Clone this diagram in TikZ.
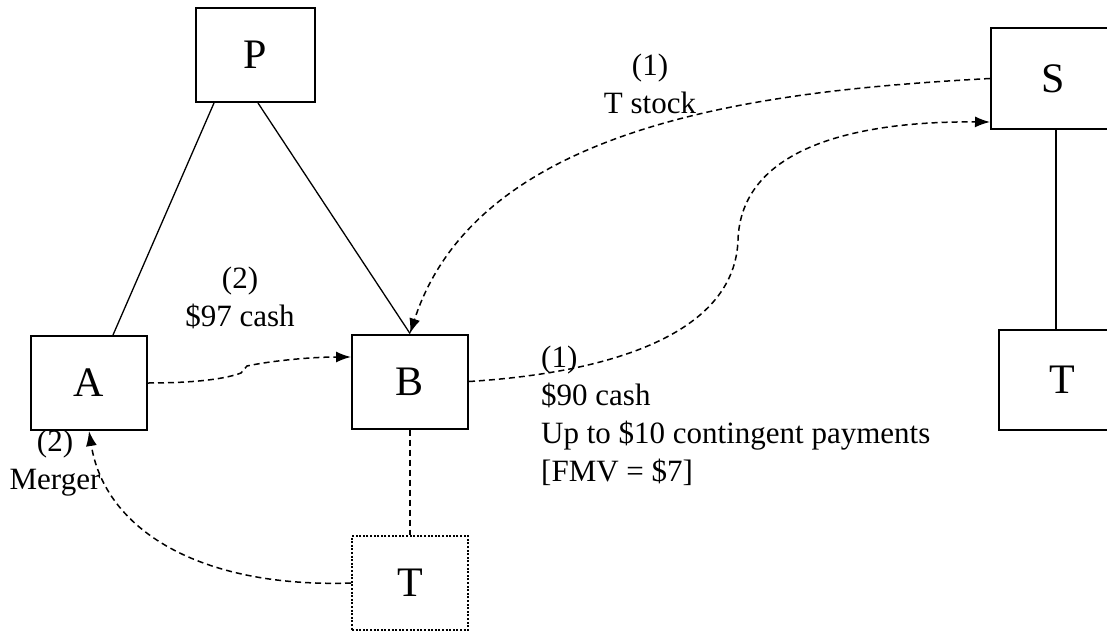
\documentclass[tikz,border=0pt]{standalone}
\usepackage{fontspec}
\setmainfont{Liberation Serif}
\usetikzlibrary{arrows.meta}

\begin{document}
\begin{tikzpicture}[
        x=1pt, y=-1pt,
        boite/.style = {draw, line width=2pt, minimum width=116pt, minimum height=94pt, inner sep=0pt, font=\fontsize{42}{50}\selectfont},
        pointille/.style = {boite, dash pattern=on 2pt off 1.6pt},
        lien/.style = {line width=1.3pt},
        flux/.style = {line width=1.5pt, dash pattern=on 6pt off 4pt, -{Latex[length=15pt,width=11pt]}},
        etiq/.style = {inner sep=0pt, font=\fontsize{31}{38}\selectfont}
    ]
        \useasboundingbox (0,0) rectangle (1107,631);

        % Définition des entités (positionnement par coordonnées)
        \node[boite, minimum width=119pt] (P) at (255.5,55) {P};
        \node[boite] (A) at (89,383) {A};
        \node[boite] (B) at (410,381.5) {B};
        \node[pointille] (Td) at (410,583) {T};
        \node[boite, minimum width=124pt, minimum height=101pt] (S) at (1053,78.5) {S};
        \node[boite, minimum width=126pt, minimum height=100pt] (T) at (1062,380) {T};

        % Liens de détention
        \draw[lien] ([xshift=19pt]P.south west) -- ([xshift=24pt]A.north);
        \draw[lien] ([xshift=2.5pt]P.south) -- (B.north);
        \draw[lien] ([xshift=3pt]S.south) -- ([xshift=-6pt]T.north);
        \draw[lien, line width=1.5pt, dash pattern=on 6pt off 4pt] (B.south) -- (Td.north);

        % Transferts
        \draw[flux] (S.west) .. controls (780,90) and (480,118) .. (B.north);
        \draw[flux] (B.east) .. controls (620,372) and (735,330) .. (738,240)
            .. controls (741,150) and (850,121) .. ([yshift=8pt]S.south west);
        \draw[flux] (A.east) .. controls (200,383) and (228,378) .. (241,373) -- (247,366)
            .. controls (270,361) and (310,357) .. ([yshift=24.5pt]B.west);
        \draw[flux] (Td.west) .. controls (200,588) and (105,530) .. (A.south);

        % Etiquettes
        \node[etiq, align=center, anchor=north] (l1) at (650,54) {(1)\\T stock};
        \node[etiq, align=center, anchor=north] (l2) at (240,267) {(2)\\\$97 cash};
        \node[etiq, align=left, anchor=north west] (l3) at (541,346)
            {(1)\\\$90 cash\\Up to \$10 contingent payments\\{[FMV = \$7]}};
        \node[etiq, align=center, anchor=north] (l4) at (55,430) {(2)\\Merger};

    \end{tikzpicture}
\end{document}
